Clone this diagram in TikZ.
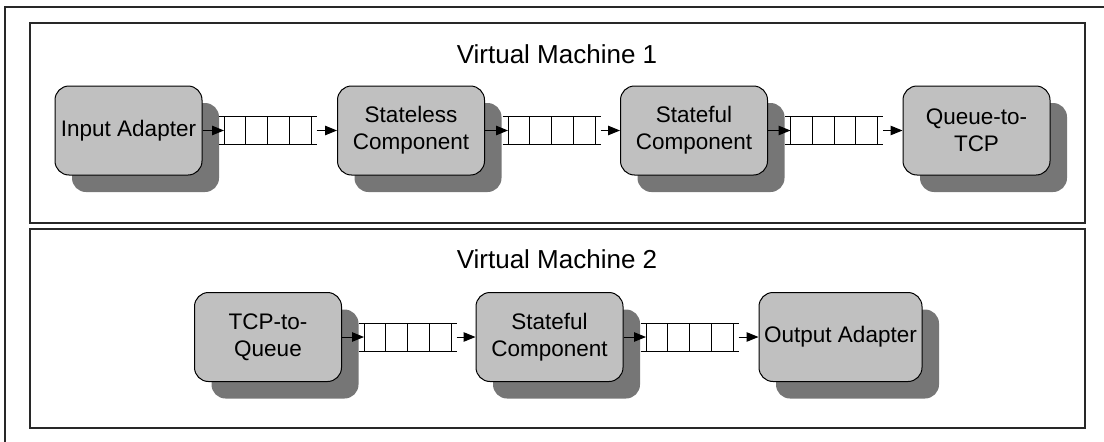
\documentclass[tikz,border=0pt]{standalone}
\usepackage{fontspec}
\setmainfont{Liberation Sans}
\usetikzlibrary{shadows,arrows.meta,calc}

\definecolor{boxfill}{RGB}{192,192,192}
\definecolor{boxshadow}{RGB}{118,118,118}
\definecolor{framecol}{RGB}{40,40,40}

\tikzset{
  comp/.style={draw=black, line width=1pt, fill=boxfill, rounded corners=14pt,
    minimum width=147pt, minimum height=89pt, inner sep=0pt, align=center,
    font=\fontsize{22.5}{27}\selectfont,
    general shadow={shadow xshift=17pt, shadow yshift=-17pt, fill=boxshadow, draw=none}},
  queuebox/.style={minimum width=87pt, minimum height=28pt, inner sep=0pt, outer sep=0pt},
  qline/.style={line width=0.9pt, black},
  flow/.style={line width=1pt, -{Triangle[length=12pt,width=9.5pt]}},
  vmframe/.style={draw=framecol, line width=1.3pt},
  vmtitle/.style={font=\fontsize{26}{30}\selectfont, anchor=base},
}

% a message queue: open-ended rails with four cells
\newcommand\drawqueue[1]{%
  \draw[qline] ([xshift=-5.5pt]#1.north west) -- ([xshift=5.5pt]#1.north east)
               ([xshift=-5.5pt]#1.south west) -- ([xshift=5.5pt]#1.south east);
  \foreach \k in {0,...,4}
    \draw[qline] ($(#1.north west)!\k/4!(#1.north east)$) -- ($(#1.south west)!\k/4!(#1.south east)$);
}

\begin{document}
\begin{tikzpicture}[x=1pt,y=-1pt]
  % outer border and the two machine frames
  \draw[vmframe, line width=1.2pt] (5,442) -- (5,7) -- (1104,7);
  \draw[vmframe] (30,23) rectangle (1085,223);
  \draw[vmframe] (30,229) rectangle (1085,428);

  \node[vmtitle] (t1) at (557,63.3) {Virtual Machine 1};
  \node[vmtitle] (t2) at (557,268.3) {Virtual Machine 2};

  % Virtual Machine 1
  \node[comp] (in)  at (128.5,130.5) {Input Adapter};
  \node[comp] (sl)  at (411,130.5)   {Stateless\\Component};
  \node[comp] (sf1) at (694,130.5)   {Stateful\\Component};
  \node[comp] (qt)  at (976.5,130.5) {Queue-to-\\TCP};

  \node[queuebox] (q1) at (267.5,130.5) {};
  \node[queuebox] (q2) at (551.5,130.5) {};
  \node[queuebox] (q3) at (834,130.5) {};
  \drawqueue{q1}\drawqueue{q2}\drawqueue{q3}

  \draw[flow] (in) -- (q1);
  \draw[flow] ([xshift=5.5pt]q1.east) -- (sl);
  \draw[flow] (sl) -- (q2);
  \draw[flow] ([xshift=5.5pt]q2.east) -- (sf1);
  \draw[flow] (sf1) -- (q3);
  \draw[flow] ([xshift=5.5pt]q3.east) -- (qt);

  % Virtual Machine 2
  \node[comp] (tq)  at (268,337)   {TCP-to-\\Queue};
  \node[comp] (sf2) at (549.5,337) {Stateful\\Component};
  \node[comp, minimum width=163pt] (out) at (840.5,337) {Output Adapter};

  \node[queuebox] (q4) at (407.5,337) {};
  \node[queuebox] (q5) at (689.5,337) {};
  \drawqueue{q4}\drawqueue{q5}

  \draw[flow] (tq) -- (q4);
  \draw[flow] ([xshift=5.5pt]q4.east) -- (sf2);
  \draw[flow] (sf2) -- (q5);
  \draw[flow] ([xshift=5.5pt]q5.east) -- (out);

  \pgfresetboundingbox
  \useasboundingbox (0,0) rectangle (1104,442);
\end{tikzpicture}
\end{document}
